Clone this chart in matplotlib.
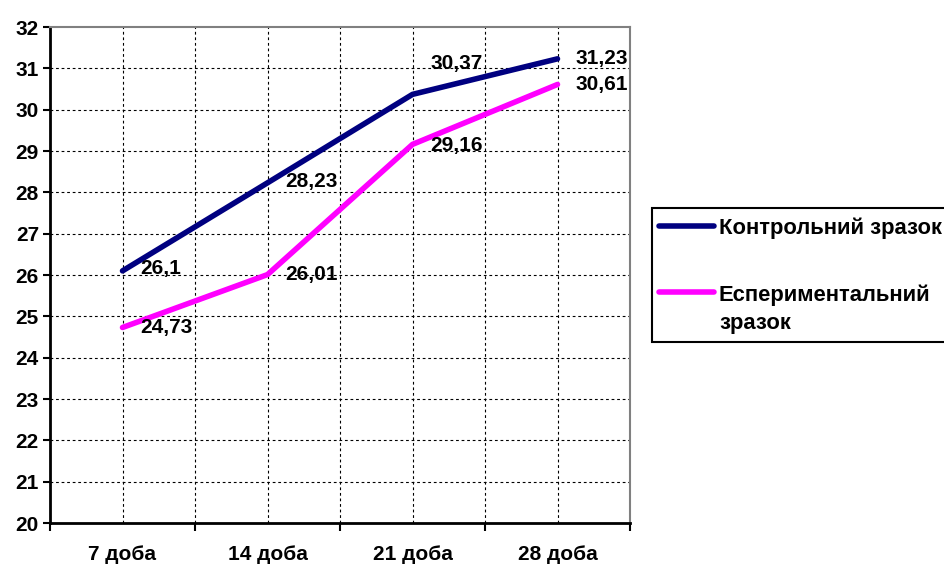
import matplotlib.pyplot as plt
from matplotlib.lines import Line2D
from matplotlib.patches import Rectangle

plt.rcParams['font.family'] = ['Liberation Sans', 'DejaVu Sans']
plt.rcParams['font.weight'] = 'bold'

days = ['7 доба', '14 доба', '21 доба', '28 доба']
control = [26.1, 28.23, 30.37, 31.23]
experiment = [24.73, 26.01, 29.16, 30.61]
control_labels = ['26,1', '28,23', '30,37', '31,23']
experiment_labels = ['24,73', '26,01', '29,16', '30,61']

FS = 15
LEG_FS = 15.8
W, H = 944, 566

fig = plt.figure(figsize=(W / 100, H / 100), dpi=100)
ax = fig.add_axes([50/W, 1 - 523/H, 580/W, 496/H])

x = list(range(len(days)))
ax.plot(x, control, color='#000080', lw=4, solid_capstyle='round', zorder=3)
ax.plot(x, experiment, color='#FF00FF', lw=4, solid_capstyle='round', zorder=3)

# data labels (pixel offsets from the point)
ctrl_dy = [2, 1, 31, 0]
exp_dy = [0, 0, -1, 0]
for i in x:
    ax.annotate(control_labels[i], (i, control[i]), xytext=(18, ctrl_dy[i]),
                textcoords='offset pixels', ha='left', va='center', fontsize=FS,
                fontweight='bold', zorder=4)
    ax.annotate(experiment_labels[i], (i, experiment[i]), xytext=(18, exp_dy[i]),
                textcoords='offset pixels', ha='left', va='center', fontsize=FS,
                fontweight='bold', zorder=4)

ax.set_xlim(-0.5, 3.5)
ax.set_ylim(20, 32)
ax.set_yticks(range(20, 33))
ax.tick_params(axis='y', labelsize=FS, length=5, width=1.5, direction='out', pad=3)

# boundaries get tick marks, centres get the labels
ax.set_xticks([-0.5, 0.5, 1.5, 2.5, 3.5])
ax.set_xticklabels([])
ax.set_xticks(x, minor=True)
ax.set_xticklabels(days, minor=True)
ax.tick_params(axis='x', which='major', length=6, width=1.5, direction='out')
ax.tick_params(axis='x', which='minor', length=0, labelsize=FS, pad=16)

for yv in range(21, 32):
    ax.axhline(yv, color='black', lw=0.8, ls=(0, (2.5, 2.5)), zorder=1)
for xv in [0, 0.5, 1, 1.5, 2, 2.5, 3]:
    ax.axvline(xv, color='black', lw=0.8, ls=(0, (2.5, 2.5)), zorder=1)

ax.spines['left'].set_linewidth(2)
ax.spines['bottom'].set_linewidth(2)
ax.spines['top'].set_color('#808080')
ax.spines['right'].set_color('#808080')
ax.spines['top'].set_linewidth(1.5)
ax.spines['right'].set_linewidth(1.5)

# legend drawn by hand: box runs off the right edge like in the original
fig.patches.append(Rectangle((652/W, 1 - 342/H), 320/W, 134/H, transform=fig.transFigure,
                             facecolor='white', edgecolor='black', lw=1.5))
fig.lines.append(Line2D([659/W, 714/W], [1 - 226/H] * 2, transform=fig.transFigure,
                        color='#000080', lw=4, solid_capstyle='round'))
fig.lines.append(Line2D([659/W, 714/W], [1 - 292/H] * 2, transform=fig.transFigure,
                        color='#FF00FF', lw=4, solid_capstyle='round'))
fig.text(719/W, 1 - 228/H, 'Контрольний зразок', fontsize=LEG_FS, fontweight='bold',
         ha='left', va='center')
fig.text(719/W, 1 - 295/H, 'Еспериментальний', fontsize=LEG_FS, fontweight='bold',
         ha='left', va='center')
fig.text(719/W, 1 - 323/H, 'зразок', fontsize=LEG_FS, fontweight='bold',
         ha='left', va='center')

fig.savefig('out.png', dpi=100)
